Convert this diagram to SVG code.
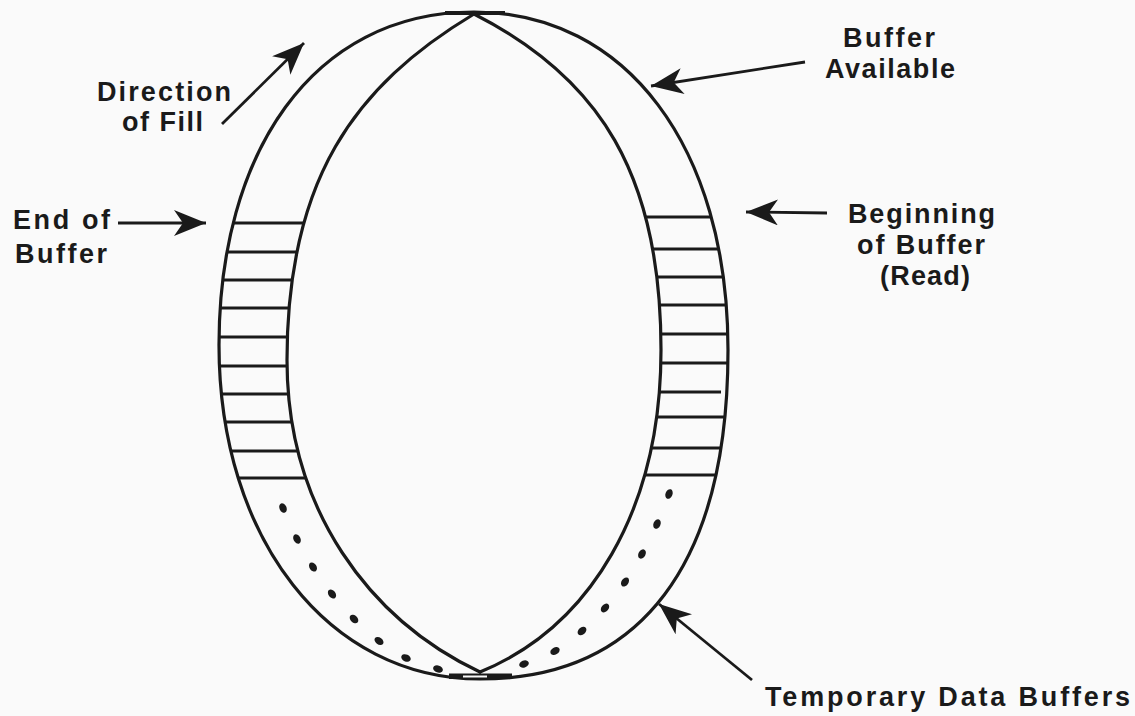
<svg xmlns="http://www.w3.org/2000/svg" width="1135" height="716" viewBox="0 0 1135 716">
<style>
.ln{fill:none;stroke:#1a1a1a;stroke-width:3.2;stroke-linecap:round;stroke-linejoin:round}
.rung{stroke:#1a1a1a;stroke-width:2.8}
.dot{fill:#1a1a1a}
.lbl{font-family:"Liberation Sans",Arial,Helvetica,sans-serif;font-weight:bold;font-size:27px;fill:#1a1a1a}
.arr{fill:none;stroke:#1a1a1a;stroke-width:2.8}
</style>
<defs>
<marker id="ah" viewBox="0 0 32 26" refX="32" refY="13" markerWidth="32" markerHeight="26" markerUnits="userSpaceOnUse" orient="auto">
<path d="M32,13 L0,0 L9,13 L0,26 Z" fill="#1a1a1a"/>
</marker>
<clipPath id="band">
<path clip-rule="evenodd" d="M474,12 C311,12 219,155 219,345 C219,539 329,679 480,679 C641,679 728,564 728,350 C728,147 626,12 474,12 Z M474,14 C354,86 287,180 287,360 C287,510 370,620 480,672 C590,627 661,510 661,350 C661,175 600,78 474,14 Z"/>
</clipPath>
</defs>
<rect width="1135" height="716" fill="#fafafa"/>

<g id="ring">
<path class="ln" d="M474,12 C311,12 219,155 219,345 C219,539 329,679 480,679 C641,679 728,564 728,350 C728,147 626,12 474,12 Z"/>
<path class="ln" d="M474,14 C354,86 287,180 287,360 C287,510 370,620 480,672"/>
<path class="ln" d="M474,14 C600,78 661,175 661,350 C661,510 590,627 480,672"/>
<line x1="445" y1="13" x2="505" y2="13" stroke="#1a1a1a" stroke-width="4"/>
<rect x="449" y="673.5" width="63" height="5.5" fill="#1a1a1a"/>
<rect x="463" y="675.5" width="24" height="2" fill="#fafafa"/>
</g>

<g id="ladder-left" clip-path="url(#band)">
<line class="rung" x1="200" y1="223" x2="340" y2="223"/>
<line class="rung" x1="200" y1="252" x2="340" y2="252"/>
<line class="rung" x1="200" y1="280" x2="340" y2="280"/>
<line class="rung" x1="200" y1="308" x2="340" y2="308"/>
<line class="rung" x1="200" y1="337" x2="340" y2="337"/>
<line class="rung" x1="200" y1="366" x2="340" y2="366"/>
<line class="rung" x1="200" y1="394" x2="340" y2="394"/>
<line class="rung" x1="200" y1="422" x2="340" y2="422"/>
<line class="rung" x1="200" y1="451" x2="340" y2="451"/>
<line class="rung" x1="200" y1="478" x2="340" y2="478"/>
</g>

<g id="ladder-right" clip-path="url(#band)">
<line class="rung" x1="620" y1="217" x2="750" y2="217"/>
<line class="rung" x1="620" y1="249" x2="750" y2="249"/>
<line class="rung" x1="620" y1="277" x2="750" y2="277"/>
<line class="rung" x1="620" y1="305" x2="750" y2="305"/>
<line class="rung" x1="620" y1="334" x2="750" y2="334"/>
<line class="rung" x1="620" y1="363" x2="750" y2="363"/>
<line class="rung" x1="620" y1="392" x2="721" y2="392"/>
<line class="rung" x1="620" y1="417" x2="750" y2="417"/>
<line class="rung" x1="620" y1="448" x2="750" y2="448"/>
<line class="rung" x1="620" y1="475" x2="750" y2="475"/>
</g>

<g id="dots-left">
<ellipse class="dot" cx="283" cy="508" rx="5" ry="3.5" transform="rotate(66 283 508)"/>
<ellipse class="dot" cx="297" cy="539" rx="5" ry="3.5" transform="rotate(63 297 539)"/>
<ellipse class="dot" cx="313" cy="567" rx="5" ry="3.5" transform="rotate(57 313 567)"/>
<ellipse class="dot" cx="332" cy="594" rx="5" ry="3.5" transform="rotate(52 332 594)"/>
<ellipse class="dot" cx="354" cy="619" rx="5" ry="3.5" transform="rotate(45 354 619)"/>
<ellipse class="dot" cx="379" cy="641" rx="5" ry="3.5" transform="rotate(37 379 641)"/>
<ellipse class="dot" cx="406" cy="658" rx="5" ry="3.5" transform="rotate(25 406 658)"/>
<ellipse class="dot" cx="438" cy="669" rx="5" ry="3.5" transform="rotate(17 438 669)"/>
</g>

<g id="dots-right">
<ellipse class="dot" cx="669" cy="494" rx="5" ry="3.5" transform="rotate(112 669 494)"/>
<ellipse class="dot" cx="657" cy="524" rx="5" ry="3.5" transform="rotate(114 657 524)"/>
<ellipse class="dot" cx="642" cy="554" rx="5" ry="3.5" transform="rotate(119 642 554)"/>
<ellipse class="dot" cx="625" cy="582" rx="5" ry="3.5" transform="rotate(124 625 582)"/>
<ellipse class="dot" cx="605" cy="608" rx="5" ry="3.5" transform="rotate(131 605 608)"/>
<ellipse class="dot" cx="582" cy="631" rx="5" ry="3.5" transform="rotate(139 582 631)"/>
<ellipse class="dot" cx="555" cy="651" rx="5" ry="3.5" transform="rotate(150 555 651)"/>
<ellipse class="dot" cx="524" cy="664" rx="5" ry="3.5" transform="rotate(158 524 664)"/>
</g>

<g id="connectors">
<line class="arr" x1="222" y1="124" x2="304" y2="43" marker-end="url(#ah)"/>
<line class="arr" x1="805" y1="62" x2="651" y2="86" marker-end="url(#ah)"/>
<line class="arr" x1="827" y1="213" x2="746" y2="212" marker-end="url(#ah)"/>
<line class="arr" x1="118" y1="223" x2="206" y2="223" marker-end="url(#ah)"/>
<line class="arr" x1="752" y1="680" x2="659" y2="604" marker-end="url(#ah)"/>
</g>

<g id="label-direction">
<text class="lbl" x="97" y="100.5" textLength="134" lengthAdjust="spacing">Direction</text>
<text class="lbl" x="122" y="131" textLength="81" lengthAdjust="spacing">of Fill</text>
</g>
<g id="label-end">
<text class="lbl" x="13" y="229" textLength="97" lengthAdjust="spacing">End of</text>
<text class="lbl" x="15" y="263" textLength="92" lengthAdjust="spacing">Buffer</text>
</g>
<g id="label-available">
<text class="lbl" x="843" y="46.5" textLength="92" lengthAdjust="spacing">Buffer</text>
<text class="lbl" x="825" y="78" textLength="130" lengthAdjust="spacing">Available</text>
</g>
<g id="label-beginning">
<text class="lbl" x="848" y="222.5" textLength="147" lengthAdjust="spacing">Beginning</text>
<text class="lbl" x="857" y="254" textLength="128" lengthAdjust="spacing">of Buffer</text>
<text class="lbl" x="880" y="285" textLength="90" lengthAdjust="spacing">(Read)</text>
</g>
<g id="label-temporary">
<text class="lbl" x="765" y="706" textLength="365" lengthAdjust="spacing">Temporary Data Buffers</text>
</g>
</svg>
